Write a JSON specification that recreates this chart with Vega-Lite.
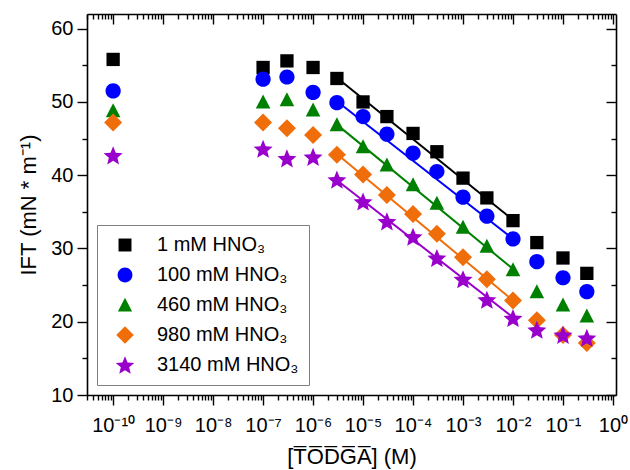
{
  "$schema": "https://vega.github.io/schema/vega-lite/v6.json",
  "autosize": {"type": "none"},
  "padding": {"left": 87, "top": 14, "right": 14, "bottom": 75},
  "width": 529,
  "height": 381,
  "config": {
    "font": "Liberation Sans",
    "view": {"stroke": null},
    "axis": {"grid": false, "domainColor": "#000", "domainWidth": 1.6, "tickColor": "#000", "tickWidth": 1.4, "labelColor": "#000", "titleColor": "#000", "labelFontSize": 20, "titleFontSize": 22, "titleFontWeight": "normal"}
  },
  "datasets": {
    "pts": [
      {"x": 1e-10, "y": 55.8, "s": "1 mM HNO₃"},
      {"x": 1e-7, "y": 54.7, "s": "1 mM HNO₃"},
      {"x": 3e-7, "y": 55.6, "s": "1 mM HNO₃"},
      {"x": 1e-6, "y": 54.7, "s": "1 mM HNO₃"},
      {"x": 3e-6, "y": 53.2, "s": "1 mM HNO₃"},
      {"x": 1e-5, "y": 50.0, "s": "1 mM HNO₃"},
      {"x": 3e-5, "y": 48.0, "s": "1 mM HNO₃"},
      {"x": 1e-4, "y": 45.7, "s": "1 mM HNO₃"},
      {"x": 3e-4, "y": 43.2, "s": "1 mM HNO₃"},
      {"x": 1e-3, "y": 39.6, "s": "1 mM HNO₃"},
      {"x": 3e-3, "y": 36.9, "s": "1 mM HNO₃"},
      {"x": 1e-2, "y": 33.8, "s": "1 mM HNO₃"},
      {"x": 3e-2, "y": 30.8, "s": "1 mM HNO₃"},
      {"x": 1e-1, "y": 28.7, "s": "1 mM HNO₃"},
      {"x": 3e-1, "y": 26.6, "s": "1 mM HNO₃"},
      {"x": 1e-10, "y": 51.5, "s": "100 mM HNO₃"},
      {"x": 1e-7, "y": 53.1, "s": "100 mM HNO₃"},
      {"x": 3e-7, "y": 53.4, "s": "100 mM HNO₃"},
      {"x": 1e-6, "y": 51.3, "s": "100 mM HNO₃"},
      {"x": 3e-6, "y": 49.9, "s": "100 mM HNO₃"},
      {"x": 1e-5, "y": 48.0, "s": "100 mM HNO₃"},
      {"x": 3e-5, "y": 45.6, "s": "100 mM HNO₃"},
      {"x": 1e-4, "y": 43.0, "s": "100 mM HNO₃"},
      {"x": 3e-4, "y": 40.5, "s": "100 mM HNO₃"},
      {"x": 1e-3, "y": 37.0, "s": "100 mM HNO₃"},
      {"x": 3e-3, "y": 34.4, "s": "100 mM HNO₃"},
      {"x": 1e-2, "y": 31.3, "s": "100 mM HNO₃"},
      {"x": 3e-2, "y": 28.2, "s": "100 mM HNO₃"},
      {"x": 1e-1, "y": 26.0, "s": "100 mM HNO₃"},
      {"x": 3e-1, "y": 24.1, "s": "100 mM HNO₃"},
      {"x": 1e-10, "y": 48.8, "s": "460 mM HNO₃"},
      {"x": 1e-7, "y": 50.0, "s": "460 mM HNO₃"},
      {"x": 3e-7, "y": 50.3, "s": "460 mM HNO₃"},
      {"x": 1e-6, "y": 48.9, "s": "460 mM HNO₃"},
      {"x": 3e-6, "y": 46.9, "s": "460 mM HNO₃"},
      {"x": 1e-5, "y": 43.9, "s": "460 mM HNO₃"},
      {"x": 3e-5, "y": 41.4, "s": "460 mM HNO₃"},
      {"x": 1e-4, "y": 38.7, "s": "460 mM HNO₃"},
      {"x": 3e-4, "y": 36.2, "s": "460 mM HNO₃"},
      {"x": 1e-3, "y": 32.9, "s": "460 mM HNO₃"},
      {"x": 3e-3, "y": 30.3, "s": "460 mM HNO₃"},
      {"x": 1e-2, "y": 27.1, "s": "460 mM HNO₃"},
      {"x": 3e-2, "y": 24.1, "s": "460 mM HNO₃"},
      {"x": 1e-1, "y": 22.3, "s": "460 mM HNO₃"},
      {"x": 3e-1, "y": 20.8, "s": "460 mM HNO₃"},
      {"x": 1e-10, "y": 47.2, "s": "980 mM HNO₃"},
      {"x": 1e-7, "y": 47.2, "s": "980 mM HNO₃"},
      {"x": 3e-7, "y": 46.4, "s": "980 mM HNO₃"},
      {"x": 1e-6, "y": 45.5, "s": "980 mM HNO₃"},
      {"x": 3e-6, "y": 42.8, "s": "980 mM HNO₃"},
      {"x": 1e-5, "y": 40.1, "s": "980 mM HNO₃"},
      {"x": 3e-5, "y": 37.3, "s": "980 mM HNO₃"},
      {"x": 1e-4, "y": 34.7, "s": "980 mM HNO₃"},
      {"x": 3e-4, "y": 32.0, "s": "980 mM HNO₃"},
      {"x": 1e-3, "y": 28.8, "s": "980 mM HNO₃"},
      {"x": 3e-3, "y": 25.8, "s": "980 mM HNO₃"},
      {"x": 1e-2, "y": 22.9, "s": "980 mM HNO₃"},
      {"x": 3e-2, "y": 20.2, "s": "980 mM HNO₃"},
      {"x": 1e-1, "y": 18.2, "s": "980 mM HNO₃"},
      {"x": 3e-1, "y": 17.1, "s": "980 mM HNO₃"},
      {"x": 1e-10, "y": 42.7, "s": "3140 mM HNO₃"},
      {"x": 1e-7, "y": 43.6, "s": "3140 mM HNO₃"},
      {"x": 3e-7, "y": 42.3, "s": "3140 mM HNO₃"},
      {"x": 1e-6, "y": 42.5, "s": "3140 mM HNO₃"},
      {"x": 3e-6, "y": 39.4, "s": "3140 mM HNO₃"},
      {"x": 1e-5, "y": 36.4, "s": "3140 mM HNO₃"},
      {"x": 3e-5, "y": 33.7, "s": "3140 mM HNO₃"},
      {"x": 1e-4, "y": 31.6, "s": "3140 mM HNO₃"},
      {"x": 3e-4, "y": 28.7, "s": "3140 mM HNO₃"},
      {"x": 1e-3, "y": 25.8, "s": "3140 mM HNO₃"},
      {"x": 3e-3, "y": 23.0, "s": "3140 mM HNO₃"},
      {"x": 1e-2, "y": 20.5, "s": "3140 mM HNO₃"},
      {"x": 3e-2, "y": 18.9, "s": "3140 mM HNO₃"},
      {"x": 1e-1, "y": 18.2, "s": "3140 mM HNO₃"},
      {"x": 3e-1, "y": 17.8, "s": "3140 mM HNO₃"}
    ],
    "fit": [
      {"x": 3e-6, "y": 53.3, "s": "1 mM HNO₃"},
      {"x": 1e-2, "y": 33.9, "s": "1 mM HNO₃"},
      {"x": 3e-6, "y": 50.1, "s": "100 mM HNO₃"},
      {"x": 1e-2, "y": 31.3, "s": "100 mM HNO₃"},
      {"x": 3e-6, "y": 46.9, "s": "460 mM HNO₃"},
      {"x": 1e-2, "y": 27.2, "s": "460 mM HNO₃"},
      {"x": 3e-6, "y": 42.9, "s": "980 mM HNO₃"},
      {"x": 1e-2, "y": 22.9, "s": "980 mM HNO₃"},
      {"x": 3e-6, "y": 39.3, "s": "3140 mM HNO₃"},
      {"x": 1e-2, "y": 20.6, "s": "3140 mM HNO₃"}
    ]
  },
  "resolve": {"axis": {"x": "independent", "y": "independent"}},
  "layer": [
    {
      "data": {"name": "fit"},
      "mark": {"type": "line", "strokeWidth": 2},
      "encoding": {
        "x": {
          "field": "x", "type": "quantitative",
          "scale": {"type": "log", "domain": [3e-11, 1.15]},
          "axis": {
            "orient": "bottom",
            "title": "[T̅O̅D̅G̅A̅] (M)",
            "titlePadding": 11,
            "tickCount": 40,
            "labelOverlap": false,
            "labelFlush": false,
            "labelPadding": 10,
            "tickSize": {"condition": {"test": "abs(log(datum.value)/LN10 - round(log(datum.value)/LN10)) < 0.01", "value": 10}, "value": 5},
            "labelExpr": "abs(log(datum.value)/LN10 - round(log(datum.value)/LN10)) < 0.01 ? ['10⁰','10⁻¹','10⁻²','10⁻³','10⁻⁴','10⁻⁵','10⁻⁶','10⁻⁷','10⁻⁸','10⁻⁹','10⁻¹⁰'][-round(log(datum.value)/LN10)] : ''"
          }
        },
        "y": {
          "field": "y", "type": "quantitative",
          "scale": {"domain": [10, 62]},
          "axis": {
            "orient": "left",
            "title": "IFT (mN * m⁻¹)",
            "titlePadding": 10,
            "values": [10, 15, 20, 25, 30, 35, 40, 45, 50, 55, 60],
            "labelPadding": 4,
            "tickSize": {"condition": {"test": "datum.value % 10 === 0", "value": 10}, "value": 5},
            "labelExpr": "datum.value % 10 === 0 ? datum.label : ''"
          }
        },
        "stroke": {
          "field": "s", "type": "nominal", "legend": null,
          "scale": {"domain": ["3140 mM HNO₃", "980 mM HNO₃", "460 mM HNO₃", "100 mM HNO₃", "1 mM HNO₃"], "range": ["#9900CC", "#F06E0A", "#008000", "#0000FF", "#000000"]}
        }
      }
    },
    {
      "data": {"name": "pts"},
      "mark": {"type": "point", "filled": true, "opacity": 1, "strokeWidth": 0, "size": 400},
      "encoding": {
        "x": {
          "field": "x", "type": "quantitative",
          "scale": {"type": "log", "domain": [3e-11, 1.15]},
          "axis": {
            "orient": "top", "title": null, "labels": false, "tickCount": 40,
            "tickSize": {"condition": {"test": "abs(log(datum.value)/LN10 - round(log(datum.value)/LN10)) < 0.01", "value": -10}, "value": -5}
          }
        },
        "y": {
          "field": "y", "type": "quantitative",
          "scale": {"domain": [10, 62]},
          "axis": {
            "orient": "right", "title": null, "labels": false,
            "values": [10, 15, 20, 25, 30, 35, 40, 45, 50, 55, 60],
            "tickSize": {"condition": {"test": "datum.value % 10 === 0", "value": -10}, "value": -5}
          }
        },
        "color": {
          "field": "s", "type": "nominal",
          "scale": {"domain": ["1 mM HNO₃", "100 mM HNO₃", "460 mM HNO₃", "980 mM HNO₃", "3140 mM HNO₃"], "range": ["#000000", "#0000FF", "#008000", "#F06E0A", "#9900CC"]},
          "legend": {
            "orient": "bottom-left", "offset": 10, "title": null,
            "strokeColor": "#808080", "fillColor": "#ffffff", "padding": 10,
            "labelFontSize": 20, "labelColor": "#000", "rowPadding": 10, "labelOffset": 22, "symbolOffset": 8,
            "labelLimit": 300, "symbolSize": 380, "symbolStrokeWidth": 0
          }
        },
        "shape": {
          "field": "s", "type": "nominal",
          "scale": {"domain": ["1 mM HNO₃", "100 mM HNO₃", "460 mM HNO₃", "980 mM HNO₃", "3140 mM HNO₃"], "range": [
            "M-0.665,-0.665L0.665,-0.665L0.665,0.665L-0.665,0.665Z",
            "M0.76,0A0.76,0.76,0,1,1,-0.76,0A0.76,0.76,0,1,1,0.76,0Z",
            "M0,-0.74L0.73,0.66L-0.73,0.66Z",
            "M0,-0.9L0.9,0L0,0.9L-0.9,0Z",
            "M0,-0.905L0.2645,-0.269L0.951,-0.214L0.428,0.234L0.588,0.904L0,0.545L-0.588,0.904L-0.428,0.234L-0.951,-0.214L-0.2645,-0.269Z"
          ]},
          "legend": {
            "orient": "bottom-left", "offset": 10, "title": null,
            "strokeColor": "#808080", "fillColor": "#ffffff", "padding": 10,
            "labelFontSize": 20, "labelColor": "#000", "rowPadding": 10, "labelOffset": 22, "symbolOffset": 8,
            "labelLimit": 300, "symbolSize": 380, "symbolStrokeWidth": 0
          }
        }
      }
    }
  ]
}
